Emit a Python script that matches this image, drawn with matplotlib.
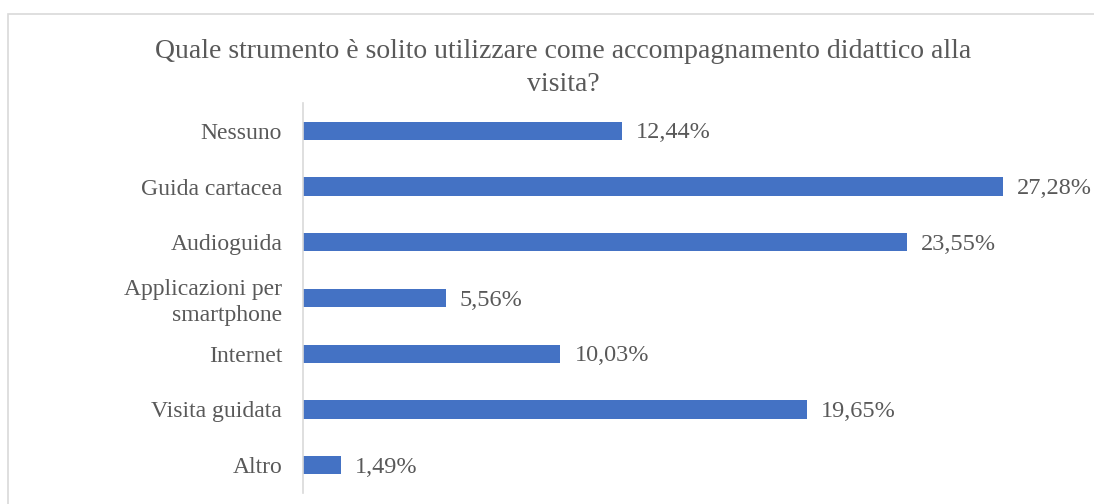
import matplotlib
matplotlib.use("Agg")
import matplotlib.pyplot as plt
from matplotlib.patches import Rectangle

categories = ["Nessuno", "Guida cartacea", "Audioguida", "Applicazioni per\nsmartphone",
              "Internet", "Visita guidata", "Altro"]
values = [12.44, 27.28, 23.55, 5.56, 10.03, 19.65, 1.49]
title = "Quale strumento è solito utilizzare come accompagnamento didattico alla\nvisita?"

W, H = 1094, 504
fig = plt.figure(figsize=(W / 100, H / 100), dpi=100)
plt.rcParams['font.family'] = ['Liberation Serif', 'DejaVu Serif']
txt = '#595959'

# chart border
fig.patches.append(Rectangle((8 / W, -0.1), 1.2, 1 - 14 / H + 0.1, transform=fig.transFigure,
                             fill=False, edgecolor='#d9d9d9', linewidth=1.2))

ax = fig.add_axes([303 / W, 1 - 493 / H, 700 / W, 390 / H])
y = list(range(len(categories)))
ax.barh(y, values, height=0.33, color='#4472C4')
ax.set_ylim(len(categories) - 0.5, -0.5)
ax.set_xlim(0, max(values))
ax.set_yticks(y)
ax.set_yticklabels(categories, fontsize=17, color=txt, linespacing=1.3)
ax.tick_params(axis='y', length=0, pad=15)
ax.set_xticks([])
for s in ['top', 'right', 'bottom']:
    ax.spines[s].set_visible(False)
ax.spines['left'].set_color('#d9d9d9')
ax.spines['left'].set_linewidth(1.2)
for yi, v in zip(y, values):
    ax.annotate(f"{v:.2f}%".replace('.', ','), (v, yi), xytext=(14, -2), textcoords='offset pixels',
                va='center', ha='left', fontsize=17.5, color=txt, annotation_clip=False)

fig.text(563 / W, 1 - 68 / H, title, ha='center', va='center', fontsize=20, color=txt,
         linespacing=1.45)

fig.savefig("out.png", dpi=100)
